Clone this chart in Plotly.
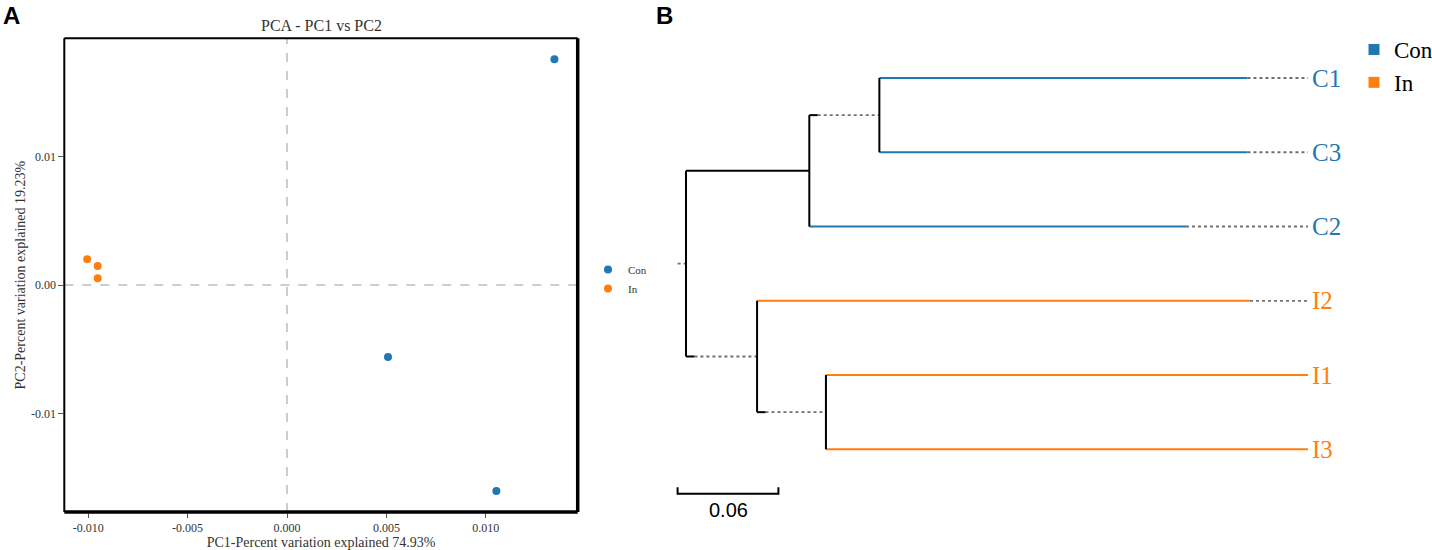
import plotly.graph_objects as go

# ---------------- Panel A data (PCA) ----------------
pca_groups = ["Con", "In"]
con_pc1 = [0.01345, 0.00508, 0.01053]
con_pc2 = [0.01759, -0.00561, -0.01606]
in_pc1 = [-0.01005, -0.00952, -0.00952]
in_pc2 = [0.00200, 0.00148, 0.00052]
x_ticks = [-0.010, -0.005, 0.000, 0.005, 0.010]
x_tick_labels = ["-0.010", "-0.005", "0.000", "0.005", "0.010"]
y_ticks = [-0.01, 0.00, 0.01]
y_tick_labels = ["-0.01", "0.00", "0.01"]

# ---------------- Panel B data (dendrogram) ----------------
leaf_names = ["C1", "C3", "C2", "I2", "I1", "I3"]
leaf_group = ["Con", "Con", "Con", "In", "In", "In"]
leaf_depth = [0.3342, 0.3342, 0.2976, 0.3357, 0.3702, 0.3702]
node_names = ["root", "A", "A1", "B", "B1"]
node_depth = [0.0, 0.0734, 0.1151, 0.0423, 0.0833]
node_children = [["A", "B"], ["A1", "C2"], ["C1", "C3"], ["I2", "B1"], ["I1", "I3"]]
dotted_internal = ["B", "A1", "B1"]
scale_value = 0.06

BLUE = "#1f77b4"
ORANGE = "#ff7f0e"
colors = {"Con": BLUE, "In": ORANGE}
SERIF = "Liberation Serif"

fig = go.Figure()

# ---------- Panel A ----------
fig.add_trace(go.Scatter(x=con_pc1, y=con_pc2, mode="markers", name="Con",
                         marker=dict(color=BLUE, size=8), xaxis="x", yaxis="y"))
fig.add_trace(go.Scatter(x=in_pc1, y=in_pc2, mode="markers", name="In",
                         marker=dict(color=ORANGE, size=8), xaxis="x", yaxis="y"))

# ---------- Panel B: tree geometry from data ----------
ypos = {n: i for i, n in enumerate(leaf_names)}
xpos = {n: d for n, d in zip(leaf_names, leaf_depth)}
xpos.update({n: d for n, d in zip(node_names, node_depth)})
children = dict(zip(node_names, node_children))


def get_y(n):
    if n in ypos:
        return ypos[n]
    c = children[n]
    ypos[n] = (get_y(c[0]) + get_y(c[1])) / 2
    return ypos[n]


for n in node_names:
    get_y(n)

stub = 0.005
label_x = max(leaf_depth)
black_x, black_y = [], []
dot_x, dot_y = [], []
tip_xy = {"Con": ([], []), "In": ([], [])}

for n in node_names:
    c0, c1 = children[n]
    nx = xpos[n]
    black_x += [nx, nx, None]
    black_y += [get_y(c0), get_y(c1), None]
    for c in (c0, c1):
        cy = get_y(c)
        if c in leaf_names:
            g = leaf_group[leaf_names.index(c)]
            tip_xy[g][0].extend([nx, xpos[c], None])
            tip_xy[g][1].extend([cy, cy, None])
            if xpos[c] < label_x:
                dot_x += [xpos[c], label_x, None]
                dot_y += [cy, cy, None]
        elif c in dotted_internal:
            black_x += [nx, nx + stub, None]
            black_y += [cy, cy, None]
            dot_x += [nx + stub, xpos[c], None]
            dot_y += [cy, cy, None]
        else:
            black_x += [nx, xpos[c], None]
            black_y += [cy, cy, None]

# root stub
dot_x += [xpos["root"] - stub, xpos["root"], None]
dot_y += [get_y("root"), get_y("root"), None]

fig.add_trace(go.Scatter(x=dot_x, y=dot_y, mode="lines", showlegend=False,
                         line=dict(color="#707070", width=1.8, dash="dot"),
                         xaxis="x2", yaxis="y2", hoverinfo="skip"))
for g in ["Con", "In"]:
    fig.add_trace(go.Scatter(x=tip_xy[g][0], y=tip_xy[g][1], mode="lines", showlegend=False,
                             line=dict(color=colors[g], width=2),
                             xaxis="x2", yaxis="y2", hoverinfo="skip"))
fig.add_trace(go.Scatter(x=black_x, y=black_y, mode="lines", showlegend=False,
                         line=dict(color="black", width=2),
                         xaxis="x2", yaxis="y2", hoverinfo="skip"))

# scale bar
sb_x0 = xpos["root"] - stub
sb_y = len(leaf_names) - 0.4
sb_h = 0.09
fig.add_trace(go.Scatter(x=[sb_x0, sb_x0, sb_x0 + scale_value, sb_x0 + scale_value],
                         y=[sb_y - sb_h, sb_y, sb_y, sb_y - sb_h], mode="lines",
                         showlegend=False, line=dict(color="black", width=2),
                         xaxis="x2", yaxis="y2", hoverinfo="skip"))

# legend for panel B
for g in ["Con", "In"]:
    fig.add_trace(go.Scatter(x=[None], y=[None], mode="markers", name=g, legend="legend2",
                             marker=dict(color=colors[g], size=11, symbol="square"),
                             xaxis="x2", yaxis="y2"))

annotations = []
for n, g in zip(leaf_names, leaf_group):
    annotations.append(dict(x=label_x, y=ypos[n], xref="x2", yref="y2", text=n,
                            showarrow=False, xanchor="left", yanchor="middle", xshift=2,
                            font=dict(family=SERIF, size=25, color=colors[g])))
annotations.append(dict(x=sb_x0 + scale_value / 2, y=sb_y, xref="x2", yref="y2",
                        text=f"{scale_value:.2f}", showarrow=False, xanchor="center",
                        yanchor="top", yshift=-3,
                        font=dict(family="Liberation Sans", size=20, color="black")))
annotations.append(dict(x=0.0077, y=0.971, xref="paper", yref="paper", text="<b>A</b>",
                        showarrow=False, xanchor="center", yanchor="middle",
                        font=dict(family="Liberation Sans", size=24, color="black")))
annotations.append(dict(x=0.4637, y=0.971, xref="paper", yref="paper", text="<b>B</b>",
                        showarrow=False, xanchor="center", yanchor="middle",
                        font=dict(family="Liberation Sans", size=24, color="black")))
annotations.append(dict(x=0.5, y=1, xref="x domain", yref="y domain", text="PCA - PC1 vs PC2",
                        showarrow=False, xanchor="center", yanchor="bottom", yshift=2,
                        font=dict(family=SERIF, size=16, color="#333333")))
annotations.append(dict(x=0, y=0.5, xref="x domain", yref="y domain",
                        text="PC2-Percent variation explained 19.23%", textangle=-90,
                        showarrow=False, xanchor="center", yanchor="middle", xshift=-44,
                        font=dict(family=SERIF, size=14, color="#333333")))

shapes = [
    dict(type="line", xref="x", yref="y domain", x0=0, x1=0, y0=0, y1=1,
         line=dict(color="#bdbdbd", width=1.5, dash="dash"), layer="below"),
    dict(type="line", xref="x domain", yref="y", x0=0, x1=1, y0=0, y1=0,
         line=dict(color="#bdbdbd", width=1.5, dash="dash"), layer="below"),
    # frame
    dict(type="line", xref="x domain", yref="y domain", x0=0, x1=1, y0=1, y1=1,
         line=dict(color="black", width=2)),
    dict(type="line", xref="x domain", yref="y domain", x0=0, x1=0, y0=0, y1=1,
         line=dict(color="black", width=2)),
    dict(type="line", xref="x domain", yref="y domain", x0=1, x1=1, y0=0, y1=1,
         line=dict(color="black", width=3.5)),
    dict(type="line", xref="x domain", yref="y domain", x0=0, x1=1, y0=0, y1=0,
         line=dict(color="black", width=3.5)),
]

W, H = 1432, 550
fig.update_layout(
    width=W, height=H, margin=dict(l=0, r=0, t=0, b=0, autoexpand=False),
    paper_bgcolor="white", plot_bgcolor="white",
    font=dict(family=SERIF, color="#333333"),
    xaxis=dict(domain=[64.3 / W, 577.7 / W], range=[-0.0112, 0.01462], automargin=False,
               tickvals=x_ticks, ticktext=x_tick_labels, ticks="outside", ticklen=5,
               tickcolor="#555555", tickfont=dict(family=SERIF, size=12, color="#333333"),
               showgrid=False, zeroline=False, showline=False,
               title=dict(text="PC1-Percent variation explained 74.93%",
                          font=dict(family=SERIF, size=14, color="#333333"), standoff=2)),
    yaxis=dict(domain=[1 - 512 / H, 1 - 38.3 / H], range=[-0.01769, 0.01923], automargin=False,
               tickvals=y_ticks, ticktext=y_tick_labels, ticks="outside", ticklen=5,
               tickcolor="#555555", tickfont=dict(family=SERIF, size=12, color="#333333"),
               showgrid=False, zeroline=False, showline=False),
    xaxis2=dict(domain=[650 / W, 1.0], range=[-0.02143, 0.44405], visible=False,
                anchor="y2", automargin=False),
    yaxis2=dict(domain=[0, 1], range=[6.356, -1.0504], visible=False, anchor="x2",
                automargin=False),
    legend=dict(x=588 / W, y=1 - 255 / H, xanchor="left", yanchor="top",
                font=dict(family=SERIF, size=11, color="#333333"),
                bgcolor="rgba(0,0,0,0)", itemwidth=30, tracegroupgap=0),
    legend2=dict(x=1354 / W, y=1 - 28 / H, xanchor="left", yanchor="top",
                 font=dict(family=SERIF, size=23, color="black"),
                 bgcolor="rgba(0,0,0,0)", itemwidth=30),
    annotations=annotations, shapes=shapes, showlegend=True,
)

fig.write_html("out.html", config={"displayModeBar": False},
               post_script="document.body.style.margin='0';document.body.style.overflow='hidden';")
